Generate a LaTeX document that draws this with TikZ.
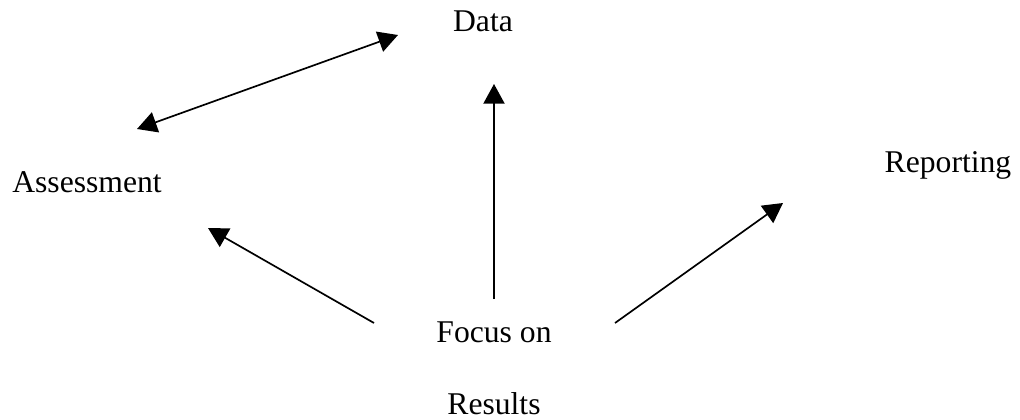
\documentclass[tikz,border=0pt]{standalone}
\usepackage{fontspec}
\setmainfont{Liberation Serif}
\usetikzlibrary{arrows.meta}
\tikzstyle{term} = [inner sep=0pt, anchor=base, font=\fontsize{22.5}{27}\selectfont]
\tikzstyle{link} = [draw, line width=1.2pt, >={Triangle[length=14pt,width=15pt]}]

\begin{document}
\begin{tikzpicture}[x=0.025cm, y=-0.025cm]
    \useasboundingbox (0,0) rectangle (1020,420);
    % words
    \node[term] (data) at (483,32) {Data};
    \node[term] (assessment) at (87,192) {Assessment};
    \node[term] (reporting) at (948,173) {Reporting};
    \node[term] (focus) at (494,342) {Focus on};
    \node[term] (results) at (494,414) {Results};

    % free arrow ends
    \coordinate (dataL) at (398,35);
    \coordinate (assessR) at (137,129);
    \coordinate (dataB) at (494,84);
    \coordinate (focusT) at (494,299);
    \coordinate (focusL) at (374,323);
    \coordinate (assessB) at (208,228);
    \coordinate (focusR) at (615,323);
    \coordinate (reportL) at (783,203);

    \draw[link,<->] (assessR) -- (dataL);
    \draw[link,->] (focusT) -- (dataB);
    \draw[link,->] (focusL) -- (assessB);
    \draw[link,->] (focusR) -- (reportL);
\end{tikzpicture}
\end{document}
